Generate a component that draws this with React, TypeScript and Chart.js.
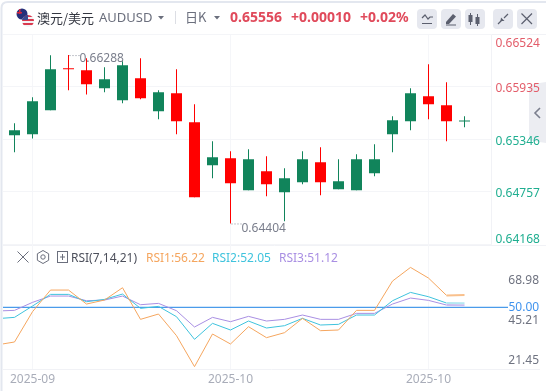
import React, { useEffect, useRef } from "react";
import { Chart, registerables } from "chart.js";

Chart.register(...registerables);

const opens = [0.65391, 0.65402, 0.6567, 0.6614, 0.66118, 0.65916, 0.65782, 0.66028, 0.65659, 0.65861, 0.65536, 0.65056, 0.65134, 0.64776, 0.64989, 0.64754, 0.64866, 0.65089, 0.64787, 0.64776, 0.64966, 0.65402, 0.65547, 0.65827, 0.65726, 0.65546];
const closes = [0.65447, 0.65771, 0.66129, 0.66129, 0.65961, 0.66017, 0.66174, 0.65805, 0.65872, 0.65547, 0.64698, 0.65145, 0.64855, 0.65123, 0.64843, 0.64910, 0.65123, 0.64866, 0.64877, 0.65123, 0.65123, 0.65559, 0.65861, 0.65737, 0.65547, 0.65556];
const highs = [0.65525, 0.65816, 0.66285, 0.66288, 0.66252, 0.66151, 0.66218, 0.66252, 0.65894, 0.66129, 0.65737, 0.65324, 0.65212, 0.65235, 0.65156, 0.65022, 0.65212, 0.65257, 0.65123, 0.65179, 0.6529, 0.65603, 0.65916, 0.66185, 0.65984, 0.65603];
const lows = [0.65201, 0.65354, 0.6567, 0.65894, 0.65846, 0.65872, 0.65749, 0.65794, 0.6557, 0.65402, 0.64698, 0.6491, 0.64404, 0.64776, 0.64709, 0.6443, 0.64843, 0.6472, 0.64787, 0.64776, 0.64933, 0.65201, 0.65447, 0.6557, 0.65324, 0.6548];

const rsi1 = [31.17, 32.67, 47.83, 58.67, 58.67, 51.67, 53.67, 59.83, 44, 46.67, 35.83, 20.33, 36.67, 31.67, 40.33, 34.83, 37.33, 44.5, 38.33, 38.67, 48.5, 48.5, 63.17, 70, 64.67, 56.0, 56.22];
const rsi2 = [44.33, 45, 50.67, 56.5, 56.5, 52.83, 54, 56.67, 49.5, 50.5, 45.33, 34, 42, 38.67, 43.17, 39.67, 40.83, 44.5, 41.17, 41.5, 46.17, 46.17, 53.33, 57.5, 55.33, 52.17, 52.05];
const rsi3 = [48.17, 48.5, 52.5, 55.67, 55.67, 53.33, 53.67, 55.67, 51.33, 52, 48.33, 40.17, 45, 42.83, 45.5, 43.17, 44, 46.17, 44, 44, 47, 47, 51.67, 54.67, 53.5, 51.17, 51.12];

const priceTicks = [0.66524, 0.65935, 0.65346, 0.64757, 0.64168];
const rsiTicks = [68.98, 45.21, 21.45];
const rsiMidTick = [50];
const xTickIndex = [1, 12, 23];
const xTickLabels = ["2025-09", "2025-10", "2025-10"];
const maxLabel = "0.66288";
const minLabel = "0.64404";

const FONT = '"Noto Sans", "Noto Sans CJK SC", sans-serif';
const GREEN = "#11845b";
const RED = "#ff0000";
const idx = opens.map((_, i) => i);

const lineStyle = (color: string, pale: string, data: number[], label: string) => ({
  type: "line" as const,
  label,
  yAxisID: "rsi",
  xAxisID: "x",
  data: data.map((v, i) => ({ x: i - 1, y: v })),
  borderColor: color,
  borderWidth: 1,
  pointRadius: 0,
  tension: 0,
  segment: {
    borderColor: (c: any) => (c.p1DataIndex === data.length - 1 ? pale : color),
    borderWidth: (c: any) => (c.p1DataIndex === data.length - 1 ? 2 : 1),
  },
});

const fixBox = (s: any, size: { width?: number; height?: number }) => {
  if (size.width !== undefined) s.width = size.width;
  if (size.height !== undefined) s.height = size.height;
  s.paddingTop = 0;
  s.paddingBottom = 0;
  s.paddingLeft = 0;
  s.paddingRight = 0;
};

const chrome = {
  id: "chrome",
  beforeDraw(chart: any) {
    const c = chart.ctx;
    c.save();
    c.fillStyle = "#fff";
    c.fillRect(0, 0, 546, 391);
    // frame
    c.strokeStyle = "#e3e7ef";
    c.lineWidth = 2;
    c.beginPath();
    c.moveTo(1.5, 391);
    c.lineTo(1.5, 8);
    c.quadraticCurveTo(1.5, 2, 8, 2);
    c.lineTo(546, 2);
    c.stroke();
    // separators
    c.strokeStyle = "#f1f2f6";
    c.lineWidth = 1;
    c.beginPath();
    c.moveTo(3, 34.5);
    c.lineTo(546, 34.5);
    c.moveTo(3, 245.5);
    c.lineTo(546, 245.5);
    c.moveTo(3, 369.5);
    c.lineTo(540, 369.5);
    c.moveTo(491.5, 34);
    c.lineTo(491.5, 245);
    c.stroke();
    // side toggle
    c.fillStyle = "#ecedf2";
    c.beginPath();
    c.moveTo(546, 82);
    c.lineTo(533, 84);
    c.quadraticCurveTo(529, 85, 529, 89);
    c.lineTo(529, 137);
    c.quadraticCurveTo(529, 141, 533, 141);
    c.lineTo(546, 143);
    c.fill();
    c.strokeStyle = "#7b7f8e";
    c.lineWidth = 1.6;
    c.beginPath();
    c.moveTo(540, 108);
    c.lineTo(535, 113);
    c.lineTo(540, 118);
    c.stroke();
    // header flags
    c.save();
    c.beginPath();
    c.arc(22, 14, 5.5, 0, Math.PI * 2);
    c.clip();
    c.fillStyle = "#25307a";
    c.fillRect(16, 8, 12, 12);
    c.fillStyle = "#d8263c";
    c.fillRect(17, 12, 5, 1.5);
    c.fillRect(19, 9, 1.5, 5);
    c.restore();
    c.save();
    c.beginPath();
    c.arc(28, 21, 6, 0, Math.PI * 2);
    c.clip();
    for (let i = 0; i < 6; i++) {
      c.fillStyle = i % 2 ? "#f3f3f5" : "#d9394e";
      c.fillRect(22, 15 + i * 2, 12, 2);
    }
    c.fillStyle = "#3c4a8f";
    c.fillRect(22, 15, 6, 5);
    c.restore();
    // header text
    c.textBaseline = "middle";
    c.textAlign = "left";
    c.fillStyle = "#333640";
    c.font = '13px "Noto Sans CJK SC", sans-serif';
    c.fillText("澳元/美元", 37, 18);
    c.fillStyle = "#6b6f7d";
    c.font = `13px ${FONT}`;
    c.fillText("AUDUSD", 99, 18.5);
    c.font = '13px "Noto Sans CJK SC", sans-serif';
    c.fillText("日K", 185, 17.5);
    c.fillStyle = "#6b6f7d";
    for (const x of [161, 217]) {
      c.beginPath();
      c.moveTo(x - 3, 16);
      c.lineTo(x + 3, 16);
      c.lineTo(x, 19.5);
      c.fill();
    }
    c.strokeStyle = "#dcdee4";
    c.lineWidth = 1;
    c.beginPath();
    c.moveTo(175.5, 11);
    c.lineTo(175.5, 24);
    c.stroke();
    c.fillStyle = "#e04a5b";
    c.font = `bold 14px ${FONT}`;
    c.fillText("0.65556", 230, 18);
    c.fillText("+0.00010", 291, 18);
    c.fillText("+0.02%", 360, 18);
    // header buttons
    c.fillStyle = "#e6e8ef";
    for (const x of [417, 441, 465, 493, 517]) {
      c.beginPath();
      c.roundRect(x, 9, 20, 20, 4);
      c.fill();
    }
    c.strokeStyle = "#5b5f6e";
    c.fillStyle = "#5b5f6e";
    c.lineWidth = 1.2;
    c.beginPath();
    c.moveTo(422, 18);
    c.lineTo(425, 15);
    c.lineTo(428, 19);
    c.lineTo(430, 17);
    c.lineTo(433, 17);
    c.moveTo(422, 23.5);
    c.lineTo(432, 23.5);
    c.stroke();
    c.beginPath();
    c.moveTo(446, 22);
    c.lineTo(453, 14);
    c.lineTo(456, 16.5);
    c.lineTo(449, 24);
    c.lineTo(446, 24);
    c.fill();
    c.fillRect(446, 24.5, 10, 1);
    c.fillRect(470, 13, 1, 12);
    c.fillRect(468.5, 15, 4, 7);
    c.fillRect(477, 14, 1, 12);
    c.fillRect(475.5, 17, 4, 7);
    c.beginPath();
    c.moveTo(498, 24);
    c.lineTo(502, 20);
    c.moveTo(508, 14);
    c.lineTo(504, 18);
    c.stroke();
    c.beginPath();
    c.moveTo(501, 17.5);
    c.lineTo(504.5, 21);
    c.lineTo(500.5, 21);
    c.fill();
    c.beginPath();
    c.moveTo(521.5, 13.5);
    c.lineTo(532, 24);
    c.moveTo(532, 13.5);
    c.lineTo(521.5, 24);
    c.stroke();
    // rsi header
    c.strokeStyle = "#6b6f7d";
    c.lineWidth = 1;
    c.beginPath();
    c.moveTo(17.5, 251.5);
    c.lineTo(28.5, 262.5);
    c.moveTo(28.5, 251.5);
    c.lineTo(17.5, 262.5);
    c.stroke();
    c.beginPath();
    for (let i = 0; i < 6; i++) {
      const a = Math.PI / 6 + (i * Math.PI) / 3;
      c.lineTo(43 + 6.5 * Math.cos(a), 257 + 6.5 * Math.sin(a));
    }
    c.closePath();
    c.stroke();
    c.beginPath();
    c.arc(43, 257, 2.2, 0, Math.PI * 2);
    c.stroke();
    c.strokeRect(57.5, 251.5, 10, 11);
    c.beginPath();
    c.moveTo(62.5, 254);
    c.lineTo(62.5, 260);
    c.moveTo(60, 257);
    c.lineTo(65, 257);
    c.stroke();
    c.font = `12px ${FONT}`;
    c.fillStyle = "#4d505c";
    c.fillText("RSI(7,14,21)", 71, 258.5);
    c.fillStyle = "#f5a65f";
    c.fillText("RSI1:56.22", 146, 258.5);
    c.fillStyle = "#3fc3dd";
    c.fillText("RSI2:52.05", 212, 258.5);
    c.fillStyle = "#a98fe3";
    c.fillText("RSI3:51.12", 279, 258.5);
    c.restore();
  },
  beforeDatasetsDraw(chart: any) {
    const c = chart.ctx;
    const y = chart.scales.rsi.getPixelForValue(rsiMidTick[0]);
    c.save();
    c.strokeStyle = "#4a9bea";
    c.lineWidth = 1.2;
    c.beginPath();
    c.moveTo(3, y);
    c.lineTo(508, y);
    c.stroke();
    c.restore();
  },
  afterDatasetsDraw(chart: any) {
    const c = chart.ctx;
    const { x, y } = chart.scales;
    const hi = Math.max(...highs);
    const lo = Math.min(...lows);
    const hx = x.getPixelForValue(highs.indexOf(hi));
    const lx = x.getPixelForValue(lows.indexOf(lo));
    const hy = y.getPixelForValue(hi);
    const ly = y.getPixelForValue(lo);
    c.save();
    c.strokeStyle = "#8a8e9b";
    c.lineWidth = 1;
    c.setLineDash([1, 2]);
    c.beginPath();
    c.moveTo(hx + 1, hy + 0.5);
    c.lineTo(hx + 11, hy + 0.5);
    c.moveTo(lx + 1, ly + 0.5);
    c.lineTo(lx + 11, ly + 0.5);
    c.stroke();
    c.fillStyle = "#7a7e8c";
    c.font = `12px ${FONT}`;
    c.textBaseline = "middle";
    c.textAlign = "left";
    c.fillText(maxLabel, hx + 11, hy + 3.5);
    c.fillText(minLabel, lx + 11, ly + 5);
    c.restore();
  },
};

export default function App() {
  const ref = useRef<HTMLCanvasElement>(null);
  useEffect(() => {
    document.body.style.margin = "0";
    const data: any = {
      datasets: [
        {
          type: "bar",
          label: "wick",
          yAxisID: "y",
          xAxisID: "x",
          data: idx.map((i) => ({ x: i, y: [lows[i], highs[i]] })),
          backgroundColor: idx.map((i) => (closes[i] >= opens[i] ? GREEN : RED)),
          barThickness: 1,
          grouped: false,
          inflateAmount: 0,
          borderWidth: 0,
        },
        {
          type: "bar",
          label: "body",
          yAxisID: "y",
          xAxisID: "x",
          data: idx.map((i) => ({ x: i, y: [Math.min(opens[i], closes[i]), Math.max(opens[i], closes[i])] })),
          backgroundColor: idx.map((i) => (closes[i] >= opens[i] ? GREEN : RED)),
          barThickness: 11,
          grouped: false,
          inflateAmount: 0,
          borderWidth: 0,
          minBarLength: 1,
        },
        lineStyle("#f5a65f", "#f9c08c", rsi1, "RSI1"),
        lineStyle("#3fc3dd", "#b5e8f2", rsi2, "RSI2"),
        lineStyle("#a98fe3", "#cdbcf0", rsi3, "RSI3"),
      ],
    };
    const tickFont = { family: FONT, size: 12 };
    const priceFont = (c: any) => {
      const v = c.tick && c.tick.value;
      if (v === priceTicks[0]) return { family: FONT, size: 12, lineHeight: 19 / 12 };
      if (v === priceTicks[priceTicks.length - 1]) return { family: FONT, size: 12, lineHeight: 10 / 12 };
      return { family: FONT, size: 12, lineHeight: 4 / 12 };
    };
    const chart = new Chart(ref.current!, {
      type: "bar",
      data,
      plugins: [chrome],
      options: {
        animation: false,
        responsive: false,
        events: [],
        layout: { padding: { left: 3, top: 34, bottom: 0, right: 0 } },
        plugins: { legend: { display: false }, tooltip: { enabled: false } },
        scales: {
          x: {
            type: "linear",
            position: "bottom",
            offset: false,
            min: -0.639,
            max: 26.5,
            afterBuildTicks: (s: any) => {
              s.ticks = xTickIndex.map((v) => ({ value: v }));
            },
            afterFit: (s: any) => fixBox(s, { height: 22 }),
            grid: { color: "#f5f6f9", drawTicks: false, offset: false },
            border: { display: false },
            ticks: {
              autoSkip: false,
              maxRotation: 0,
              padding: 3,
              color: "#a9adb9",
              font: tickFont,
              callback: (v: any) => xTickLabels[xTickIndex.indexOf(v)],
            },
          },
          rsiLabels: {
            type: "linear",
            position: "right",
            weight: 5,
            min: 16.44,
            max: 214.43,
            afterBuildTicks: (s: any) => {
              s.ticks = rsiTicks.map((v) => ({ value: v }));
            },
            afterFit: (s: any) => fixBox(s, { width: 0 }),
            grid: { display: false, drawTicks: false },
            border: { display: false },
            ticks: {
              autoSkip: false,
              mirror: true,
              padding: -7,
              color: "#6f7380",
              font: tickFont,
              callback: (v: any) => Number(v).toFixed(2),
            },
          },
          y: {
            type: "linear",
            position: "right",
            stack: "panes",
            stackWeight: 210.8,
            min: 0.64168,
            max: 0.66524,
            afterBuildTicks: (s: any) => {
              s.ticks = priceTicks.map((v) => ({ value: v }));
            },
            afterFit: (s: any) => fixBox(s, { width: 54.5 }),
            grid: { color: "#f4f5f8", drawTicks: false },
            border: { display: false },
            ticks: {
              autoSkip: false,
              padding: 4,
              font: priceFont,
              color: (c: any) => (c.tick.value > 0.656 ? "#e35d6a" : "#1fae90"),
              callback: (v: any) => {
                const t = Number(v).toFixed(5);
                return v === priceTicks[priceTicks.length - 1] ? [t, ""] : ["", t];
              },
            },
          },
          rsi: {
            type: "linear",
            position: "right",
            stack: "panes",
            stackWeight: 124.6,
            min: 19.15,
            max: 81.45,
            afterBuildTicks: (s: any) => {
              s.ticks = rsiMidTick.map((v) => ({ value: v }));
            },
            afterFit: (s: any) => fixBox(s, { width: 54.5 }),
            grid: { display: false, drawTicks: false },
            border: { display: false },
            ticks: {
              autoSkip: false,
              padding: 17,
              color: "#3f93ee",
              font: tickFont,
              callback: (v: any) => Number(v).toFixed(2),
            },
          },
        },
      } as any,
    });
    return () => chart.destroy();
  }, []);
  return <canvas ref={ref} width={546} height={391} style={{ display: "block", width: 546, height: 391 }} />;
}
